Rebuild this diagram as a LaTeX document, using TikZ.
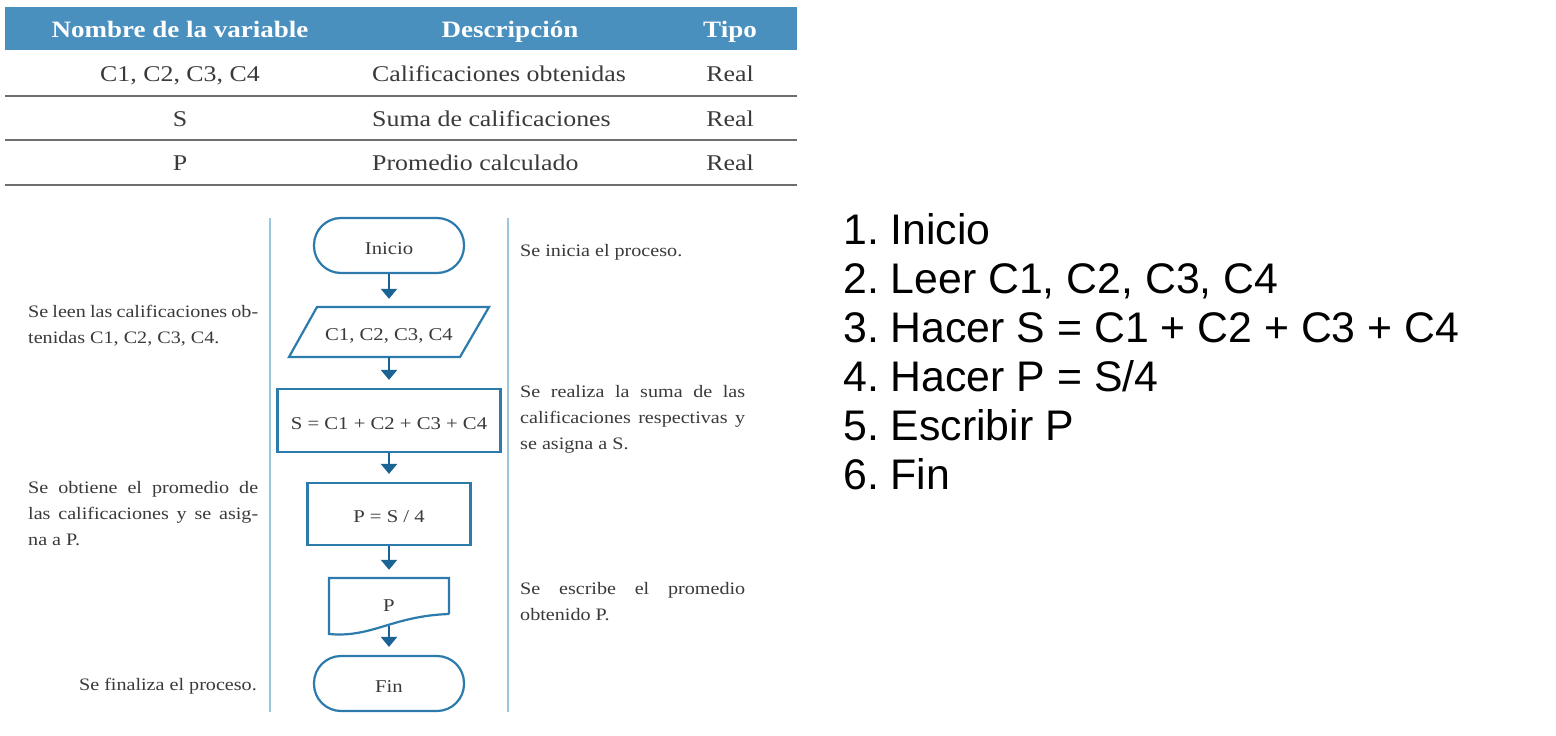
\documentclass[tikz,border=0pt]{standalone}
\usepackage{fontspec}
\setmainfont{Liberation Serif}[FakeStretch=1.15]
\newfontfamily\listfont{Liberation Sans}
\usetikzlibrary{arrows.meta}
\frenchspacing
\definecolor{hdr}{HTML}{4A90BF}
\definecolor{flow}{HTML}{2C7BAC}
\definecolor{arrc}{HTML}{1B6394}
\definecolor{vline}{HTML}{9CC5DE}
\definecolor{txt}{HTML}{3A3A3A}
\definecolor{rule}{HTML}{6E6E6E}
\tikzset{
  flowfont/.style={text=txt, font=\frenchspacing\fontsize{18}{22}\selectfont, text height=17pt, text depth=0pt},
  term/.style={draw=flow, line width=2.2pt, rounded corners=27pt, minimum width=150pt, minimum height=55pt, inner sep=0pt, flowfont},
  proc/.style={draw=flow, line width=2.2pt, inner sep=0pt, flowfont},
  plain/.style={inner sep=0pt, flowfont},
  arr/.style={draw=arrc, line width=2.4pt, -{Triangle[width=16pt,length=10pt]}, shorten >=8pt},
  hdrtext/.style={text=white, font=\bfseries\fontsize{23.5}{26}\selectfont, inner sep=0pt, anchor=base},
  celltext/.style={text=txt, font=\fontsize{22.5}{26}\selectfont, inner sep=0pt, anchor=base},
  side/.style={text=txt, font=\frenchspacing\fontsize{17.5}{26}\selectfont, inner sep=0pt},
  listline/.style={font=\frenchspacing\listfont\fontsize{42.8}{49}\selectfont, inner sep=0pt, anchor=base west},
  rowrule/.style={draw=rule, line width=1.8pt},
  lane/.style={draw=vline, line width=1.6pt}
}
\begin{document}
\begin{tikzpicture}[x=1pt,y=-1pt]
\fill[white] (0,0) rectangle (1556,736);
\useasboundingbox (0,0) rectangle (1556,736);
% table
\fill[hdr] (5,7) rectangle (797,50);
\node[hdrtext] (h1) at (180,37.5) {Nombre de la variable};
\node[hdrtext] (h2) at (510,37.5) {Descripción};
\node[hdrtext] (h3) at (730,37.5) {Tipo};
\node[celltext] (r1a) at (180,81) {C1, C2, C3, C4};
\node[celltext, anchor=base west] (r1b) at (372,81) {Calificaciones obtenidas};
\node[celltext] (r1c) at (730,81) {Real};
\node[celltext] (r2a) at (180,126) {S};
\node[celltext, anchor=base west] (r2b) at (372,126) {Suma de calificaciones};
\node[celltext] (r2c) at (730,126) {Real};
\node[celltext] (r3a) at (180,170) {P};
\node[celltext, anchor=base west] (r3b) at (372,170) {Promedio calculado};
\node[celltext] (r3c) at (730,170) {Real};
\draw[rowrule] (5,96) -- (797,96);
\draw[rowrule] (5,140) -- (797,140);
\draw[rowrule] (5,185) -- (797,185);
% lanes
\draw[lane] (270,218) -- (270,712);
\draw[lane] (508,218) -- (508,712);
% flowchart
\node[term] (ini) at (389,245.5) {Inicio};
\node[plain, minimum width=172pt, minimum height=50pt] (lee) at (389,332) {C1, C2, C3, C4};
\draw[flow, line width=2.2pt, line join=miter] (317,307) -- (489,307) -- (460,357) -- (289,357) -- cycle;
\node[proc, minimum width=223pt, minimum height=63pt] (suma) at (389,420.5) {S = C1 + C2 + C3 + C4};
\node[proc, minimum width=163pt, minimum height=62pt] (prom) at (389,514) {P = S / 4};
\node[plain, minimum width=120pt, minimum height=50pt] (doc) at (389,603) {P};
\draw[flow, line width=2.2pt, line join=miter] (449,614) -- (449,578) -- (329,578) -- (329,634)
   .. controls (372,638) and (392,616) .. (449,614);
\coordinate (docb) at (389,626);
\node[term] (fin) at (389,683.5) {Fin};
\draw[arr] (ini.south) -- (lee.north);
\draw[arr] (lee.south) -- (suma.north);
\draw[arr] (suma.south) -- (prom.north);
\draw[arr] (prom.south) -- (doc.north);
\draw[arr] (docb) -- (fin.north);
% side texts
\node[side, anchor=west, text width=230pt, align=justify] (t1) at (28,326) {Se leen las calificaciones ob-\linebreak tenidas C1, C2, C3, C4.};
\node[side, anchor=west, text width=230pt, align=justify] (t2) at (28,514) {Se obtiene el promedio de\linebreak las calificaciones y se asig-\linebreak na a P.};
\node[side, anchor=east] (t3) at (257,686) {Se finaliza el proceso.};
\node[side, anchor=west] (t4) at (520,252) {Se inicia el proceso.};
\node[side, anchor=west, text width=225pt, align=justify] (t5) at (520,419) {Se realiza la suma de las\linebreak calificaciones respectivas y\linebreak se asigna a S.};
\node[side, anchor=west, text width=225pt, align=justify] (t6) at (520,601.5) {Se escribe el promedio\linebreak obtenido P.};
% list
\node[listline] (l1) at (843,244) {1. Inicio};
\node[listline] (l2) at (843,293) {2. Leer C1, C2, C3, C4};
\node[listline] (l3) at (843,342) {3. Hacer S = C1 + C2 + C3 + C4};
\node[listline] (l4) at (843,391) {4. Hacer P = S/4};
\node[listline] (l5) at (843,440) {5. Escribir P};
\node[listline] (l6) at (843,489) {6. Fin};
\end{tikzpicture}
\end{document}
